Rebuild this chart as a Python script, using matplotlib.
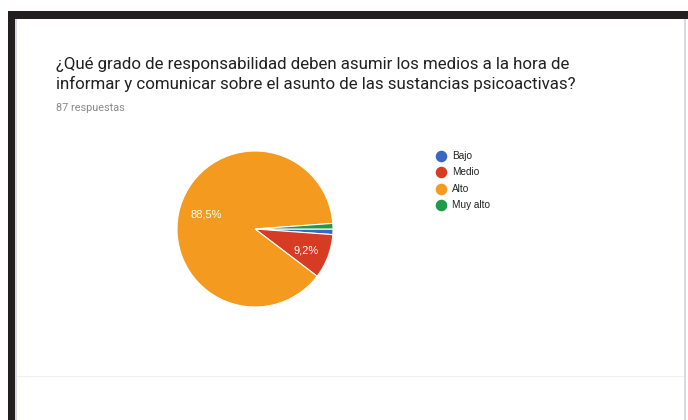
import matplotlib
matplotlib.use("Agg")
import matplotlib.pyplot as plt
from matplotlib.patches import Rectangle
from matplotlib.lines import Line2D

# data (87 respuestas)
categories = ["Bajo", "Medio", "Alto", "Muy alto"]
counts = [1, 8, 77, 1]
colors = ["#3A67C4", "#D63C24", "#F49A1F", "#1F9A48"]
title = ("¿Qué grado de responsabilidad deben asumir los medios a la hora de\n"
         "informar y comunicar sobre el asunto de las sustancias psicoactivas?")
subtitle = "87 respuestas"

W, H = 688, 420
fig = plt.figure(figsize=(W / 100, H / 100), dpi=100)


def px(x, y):
    # pixel coords (top-left origin) -> figure fraction
    return x / W, 1 - y / H


def rect(x0, y0, x1, y1, color):
    fig.patches.append(Rectangle((x0 / W, 1 - y1 / H), (x1 - x0) / W, (y1 - y0) / H,
                                 transform=fig.transFigure, color=color, lw=0, zorder=0))


# screenshot frame
rect(8, 11, W, 19, "#231f20")
rect(8, 11, 15, H, "#231f20")
rect(15, 19, 17, H, "#dcd8ea")
rect(684, 19, 686, H, "#dcd8ea")
rect(17, 376, 684, 377, "#f0f0f0")

# title texts
fig.text(*px(56, 57), title, family="Roboto", fontsize=12.2, color="#212121",
         va="top", ha="left", linespacing=1.3)
fig.text(*px(56, 108), subtitle, family="Roboto", fontsize=7.8, color="#8a8a8a",
         va="center", ha="left")

# pie
cx, cy, r = 255, 229, 78
ax = fig.add_axes([(cx - r) / W, 1 - (cy + r) / H, 2 * r / W, 2 * r / H])


def fmt(p):
    return ("%.1f%%" % p).replace(".", ",") if p > 5 else ""


wedges, _, autotexts = ax.pie(counts, colors=colors, startangle=0, counterclock=False,
                              autopct=fmt, pctdistance=0.65,
                              wedgeprops=dict(edgecolor="white", linewidth=0.8),
                              textprops=dict(color="white", fontsize=8,
                                             family="Liberation Sans"))
autotexts[1].set_position((0.65, -0.27))
ax.set_xlim(-1, 1)
ax.set_ylim(-1, 1)
ax.set_aspect("equal")
ax.axis("off")

# legend
for i, (lab, c) in enumerate(zip(categories, colors)):
    lx, ly = px(441, 156 + 16.3 * i)
    fig.add_artist(Line2D([lx], [ly], marker="o", markersize=7.3, color=c, lw=0,
                          transform=fig.transFigure))
    tx, ty = px(452, 156 + 16.3 * i)
    fig.text(tx, ty, lab, family="Liberation Sans", fontsize=7.2, color="#222222",
             va="center", ha="left")

fig.savefig("out.png", dpi=100)
